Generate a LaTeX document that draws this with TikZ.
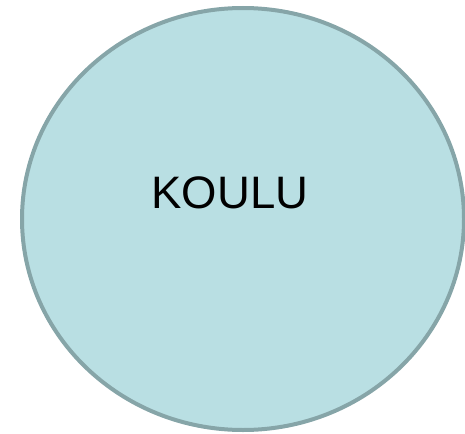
\documentclass[tikz,border=0pt]{standalone}
\usepackage{fontspec}
\setmainfont{Liberation Sans}
\usetikzlibrary{shapes.geometric}
\definecolor{fillblue}{HTML}{B9DFE3}
\definecolor{edgegrey}{HTML}{86A5A8}
\tikzset{
  blob/.style={ellipse, draw=edgegrey, fill=fillblue, line width=4pt, inner sep=0pt,
    minimum width=442pt, minimum height=422pt},
  label/.style={inner sep=0pt, font=\fontsize{45.5pt}{52pt}\selectfont, text=black}
}
\begin{document}
\begin{tikzpicture}[x=1pt,y=-1pt]
\useasboundingbox (0,0) rectangle (465,433);
\node[blob] (koulu) at (243,219) {};
\node[label] (kouluText) at (230,192.5) {KOULU};
\end{tikzpicture}
\end{document}
